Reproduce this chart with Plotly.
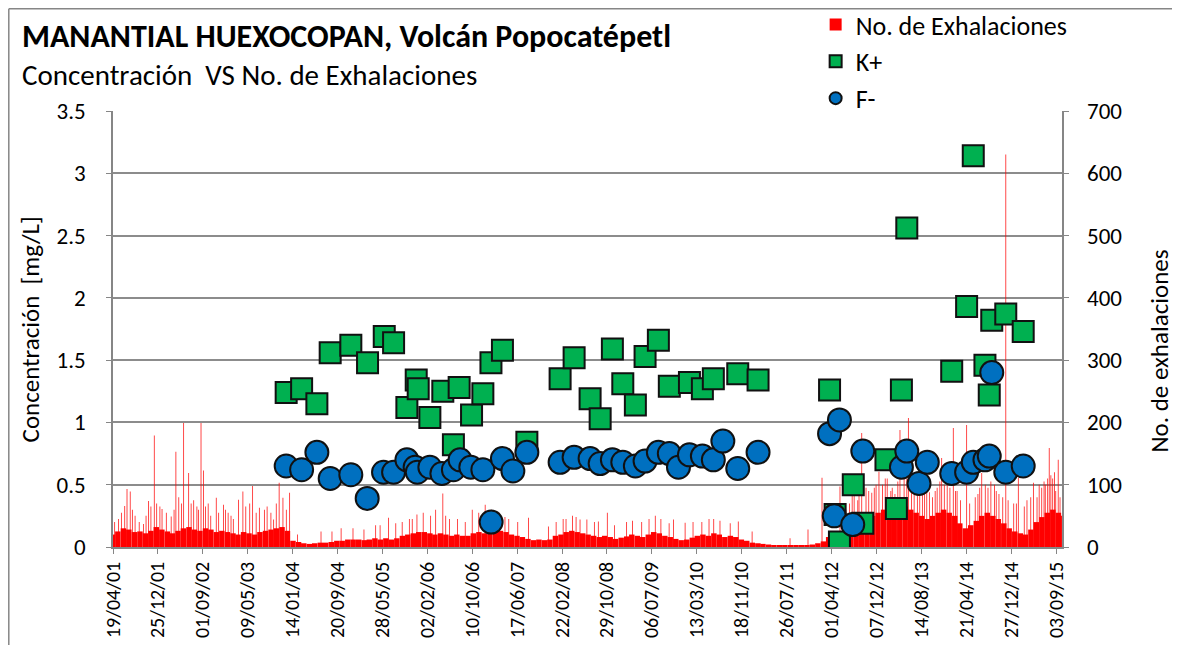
import pandas as pd
import plotly.graph_objects as go

# --- data ----------------------------------------------------------------
k_dates = ["2003-12-09", "2004-03-04", "2004-05-28", "2004-08-10", "2004-12-03", "2005-03-06",
           "2005-06-07", "2005-07-29", "2005-10-11", "2005-12-02", "2005-12-13", "2006-02-16",
           "2006-04-29", "2006-06-27", "2006-07-29", "2006-10-06", "2006-12-08", "2007-01-22",
           "2007-03-27", "2007-08-10", "2008-02-11", "2008-04-29", "2008-07-27", "2008-09-21",
           "2008-11-28", "2009-01-25", "2009-04-05", "2009-05-29", "2009-08-11", "2009-10-11",
           "2010-01-31", "2010-04-13", "2010-06-13", "2010-10-27", "2011-02-17", "2012-03-21",
           "2012-04-21", "2012-05-15", "2012-07-31", "2012-09-22", "2013-01-29", "2013-03-28",
           "2013-04-25", "2013-05-25", "2014-01-30", "2014-04-23", "2014-05-30", "2014-08-03",
           "2014-08-27", "2014-09-10", "2014-11-27", "2015-03-04"]
k_vals = [1.24, 1.27, 1.15, 1.56, 1.62, 1.48, 1.69, 1.64, 1.12, 1.34, 1.27, 1.04,
          1.25, 0.82, 1.28, 1.06, 1.23, 1.48, 1.58, 0.84, 1.35, 1.52, 1.19, 1.03,
          1.59, 1.31, 1.14, 1.53, 1.66, 1.29, 1.32, 1.27, 1.35, 1.39, 1.34, 1.26,
          0.26, 0.04, 0.50, 0.19, 0.70, 0.31, 1.26, 2.56, 1.41, 1.93, 3.14, 1.46,
          1.22, 1.82, 1.87, 1.73]

f_dates = ["2003-12-09", "2004-03-04", "2004-05-28", "2004-08-10", "2004-12-03", "2005-03-04",
           "2005-06-03", "2005-07-29", "2005-10-11", "2005-11-26", "2005-12-08", "2006-02-16",
           "2006-04-24", "2006-06-27", "2006-08-03", "2006-10-02", "2006-12-08", "2007-01-23",
           "2007-03-27", "2007-05-24", "2007-08-10", "2008-02-11", "2008-04-29", "2008-07-27",
           "2008-09-21", "2008-11-28", "2009-01-25", "2009-04-05", "2009-05-29", "2009-08-11",
           "2009-10-11", "2009-12-01", "2010-01-31", "2010-04-13", "2010-06-13", "2010-08-05",
           "2010-10-27", "2011-02-17", "2012-03-21", "2012-04-16", "2012-05-15", "2012-07-28",
           "2012-09-22", "2013-04-25", "2013-05-25", "2013-08-01", "2013-09-16", "2014-01-30",
           "2014-04-23", "2014-05-30", "2014-08-03", "2014-08-27", "2014-09-10", "2014-11-27",
           "2015-03-04"]
f_vals = [0.65, 0.62, 0.76, 0.55, 0.58, 0.39, 0.60, 0.60, 0.70, 0.64, 0.60, 0.64,
          0.59, 0.62, 0.70, 0.64, 0.62, 0.20, 0.71, 0.61, 0.76, 0.68, 0.72, 0.71,
          0.67, 0.70, 0.68, 0.65, 0.69, 0.76, 0.75, 0.64, 0.74, 0.73, 0.70, 0.85,
          0.63, 0.76, 0.91, 0.25, 1.02, 0.18, 0.77, 0.64, 0.77, 0.51, 0.68, 0.59,
          0.60, 0.68, 0.70, 0.73, 1.40, 0.60, 0.65]

# exhalations: typical monthly level, Apr 2001 .. Oct 2015
exh_monthly = [20, 25, 30, 28, 24, 25, 22, 26, 32,
               28, 25, 22, 26, 30, 32, 28, 26, 30, 28, 24, 26,
               24, 22, 20, 24, 22, 20, 24, 26, 28, 30, 32, 26,
               10, 8, 6, 5, 6, 7, 7, 8, 10, 10, 12, 12,
               12, 11, 12, 14, 12, 14, 12, 14, 18, 20, 22, 24,
               24, 22, 20, 22, 20, 18, 20, 18, 18, 22, 24, 22,
               22, 24, 26, 24, 20, 18, 16, 13, 11, 12, 11, 12,
               18, 20, 24, 26, 24, 22, 20, 18, 16, 18, 16, 13,
               15, 17, 20, 18, 16, 20, 24, 22, 18, 16, 13, 11,
               12, 15, 18, 20, 18, 22, 20, 16, 18, 16, 12, 10,
               7, 6, 5, 4, 3, 2, 2, 2, 2, 2, 3, 4,
               6, 9, 16, 10, 12, 30, 45, 55, 50, 45, 50, 55,
               60, 65, 55, 60, 65, 60, 55, 50, 45, 50, 55, 60,
               55, 50, 38, 30, 35, 42, 50, 55, 50, 45, 38, 30,
               25, 22, 20, 28, 40, 48, 55, 60, 55, 50]

# single-day peaks
spike_dates = ["2001-04-28", "2001-05-20", "2001-06-05", "2001-06-23", "2001-07-06", "2001-07-24",
               "2001-08-05", "2001-08-20", "2001-09-12", "2001-10-06", "2001-10-20", "2001-11-03",
               "2001-11-16", "2001-12-05", "2001-12-18", "2002-01-05", "2002-01-17", "2002-02-10",
               "2002-03-09", "2002-03-25", "2002-04-04", "2002-04-20", "2002-05-05", "2002-05-17",
               "2002-06-14", "2002-06-28", "2002-07-12", "2002-07-30", "2002-08-08", "2002-08-22",
               "2002-09-05", "2002-09-16", "2002-10-01", "2002-10-15", "2002-11-15", "2002-11-28",
               "2002-12-25", "2003-01-05", "2003-01-20", "2003-02-05", "2003-02-18", "2003-03-19",
               "2003-04-12", "2003-04-28", "2003-05-20", "2003-06-05", "2003-06-25", "2003-07-13",
               "2003-08-10", "2003-08-25", "2003-09-15", "2003-09-30", "2003-10-15", "2003-10-31",
               "2003-11-21", "2003-12-10", "2003-12-28",
               "2004-02-10", "2004-06-20", "2004-08-20", "2004-10-10", "2004-12-15", "2005-02-14",
               "2005-04-20", "2005-05-15", "2005-07-01", "2005-08-10", "2005-09-15", "2005-10-25",
               "2005-11-10", "2005-12-06", "2006-01-10", "2006-02-20", "2006-03-20", "2006-04-29",
               "2006-05-15", "2006-06-05", "2006-07-20", "2006-09-01", "2006-10-10", "2006-11-15",
               "2006-12-21", "2007-01-25", "2007-02-20", "2007-03-10", "2007-04-10", "2007-05-01",
               "2007-06-20", "2007-08-19", "2007-12-08", "2008-01-20", "2008-02-28", "2008-03-15",
               "2008-04-20", "2008-05-10", "2008-06-01", "2008-07-09", "2008-08-20", "2008-09-11",
               "2008-10-31", "2008-12-10", "2009-02-15", "2009-03-20", "2009-05-10", "2009-06-20",
               "2009-07-25", "2009-08-25", "2009-10-10", "2009-11-03", "2010-01-07", "2010-02-20",
               "2010-04-10", "2010-05-20", "2010-06-15", "2010-07-20", "2010-09-15", "2010-10-30",
               "2011-01-15", "2011-08-14", "2011-11-22",
               "2012-02-08", "2012-05-18", "2012-06-20", "2012-07-10", "2012-07-25", "2012-08-05",
               "2012-08-25", "2012-09-01", "2012-09-16", "2012-10-10", "2012-10-25", "2012-11-11",
               "2012-11-25", "2012-12-05", "2012-12-21", "2013-01-10", "2013-01-25", "2013-02-05",
               "2013-02-25", "2013-03-05", "2013-03-20", "2013-04-05", "2013-04-17", "2013-05-10",
               "2013-05-25", "2013-06-03", "2013-06-20", "2013-07-05", "2013-07-23", "2013-08-05",
               "2013-08-20", "2013-09-01", "2013-09-13", "2013-09-28", "2013-10-15", "2013-10-30",
               "2013-11-10", "2013-11-25", "2013-12-05", "2013-12-20", "2014-01-05", "2014-01-20",
               "2014-02-08", "2014-02-20", "2014-03-01", "2014-03-20", "2014-04-23", "2014-05-10",
               "2014-06-10", "2014-06-25", "2014-07-05", "2014-07-16", "2014-08-05", "2014-08-20",
               "2014-09-05", "2014-09-25", "2014-10-05", "2014-10-20", "2014-11-10", "2014-11-27",
               "2014-12-10", "2015-01-10", "2015-01-25", "2015-02-05", "2015-03-10", "2015-03-25",
               "2015-04-15", "2015-04-30", "2015-05-20", "2015-06-01", "2015-06-15", "2015-06-28",
               "2015-07-05", "2015-07-18", "2015-07-27", "2015-08-05", "2015-08-15", "2015-08-25",
               "2015-09-01", "2015-09-15", "2015-09-25"]
spike_vals = [40, 45, 55, 66, 93, 89,
              60, 50, 40, 37, 50, 74,
              65, 179, 70, 65, 61, 55,
              49, 60, 153, 80, 70, 199,
              119, 70, 75, 65, 60, 199,
              123, 65, 70, 50, 79, 55,
              68, 60, 55, 50, 45, 76,
              89, 65, 70, 98, 55, 63,
              60, 65, 55, 44, 70, 103,
              79, 60, 87,
              20, 25, 25, 30, 30, 28,
              35, 35, 47, 38, 40, 45,
              45, 52, 55, 50, 60, 86,
              50, 45, 45, 40, 60, 55,
              68, 60, 50, 55, 48, 45,
              40, 47, 33, 40, 45, 45,
              50, 48, 44, 44, 40, 41,
              55, 35, 40, 42, 40, 45,
              50, 45, 38, 44, 39, 40,
              40, 45, 45, 42, 38, 41,
              25, 14, 28,
              111, 97, 60, 70, 85, 90,
              75, 100, 183, 95, 90, 87,
              95, 100, 121, 100, 110, 110,
              90, 95, 85, 105, 188, 120,
              110, 207, 100, 95, 103, 90,
              85, 85, 92, 88, 80, 90,
              95, 105, 143, 100, 110, 95,
              191, 90, 90, 75, 196, 70,
              80, 85, 95, 119, 100, 95,
              105, 100, 90, 85, 80, 630,
              75, 70, 70, 111, 65, 75,
              80, 103, 80, 100, 95, 105,
              100, 110, 159, 115, 110, 120,
              90, 140, 80]

tick_dates = ["2001-04-19", "2001-12-25", "2002-09-01", "2003-05-09", "2004-01-14", "2004-09-20",
              "2005-05-28", "2006-02-02", "2006-10-10", "2007-06-17", "2008-02-22", "2008-10-29",
              "2009-07-06", "2010-03-13", "2010-11-18", "2011-07-26", "2012-04-01", "2012-12-07",
              "2013-08-14", "2014-04-21", "2014-12-27", "2015-09-03"]

FONT = "Carlito, Calibri, Lato, sans-serif"
DAY = 86400000
RED = "#FF0000"

months = pd.date_range("2001-04-01", periods=len(exh_monthly), freq="MS") + pd.Timedelta(days=15)

fig = go.Figure()

fig.add_trace(go.Bar(
    x=months, y=exh_monthly, width=[30.4 * DAY] * len(exh_monthly),
    marker=dict(color=RED, line=dict(width=0)),
    showlegend=False, yaxis="y"
))
fig.add_trace(go.Bar(
    x=pd.to_datetime(spike_dates), y=spike_vals, width=[5 * DAY] * len(spike_vals),
    marker=dict(color="rgba(255,0,0,0.8)", line=dict(width=0)),
    showlegend=False, yaxis="y", hoverinfo="skip"
))
# legend entry for the exhalation bars (square swatch like the original)
fig.add_trace(go.Scatter(
    x=[None], y=[None], mode="markers", name="No. de Exhalaciones",
    marker=dict(symbol="square", size=16, color=RED, line=dict(width=0)), yaxis="y"
))
fig.add_trace(go.Scatter(
    x=pd.to_datetime(k_dates), y=k_vals, mode="markers", name="K+",
    marker=dict(symbol="square", size=21, color="#00B050", line=dict(color="#111111", width=2)),
    yaxis="y2"
))
fig.add_trace(go.Scatter(
    x=pd.to_datetime(f_dates), y=f_vals, mode="markers", name="F-",
    marker=dict(symbol="circle", size=23, color="#0070C0", line=dict(color="#111111", width=2)),
    yaxis="y2"
))
# empty trace so the right-hand label axis is drawn
fig.add_trace(go.Scatter(x=[None], y=[None], mode="markers", showlegend=False, yaxis="y3"))

tick_text = [pd.Timestamp(d).strftime("%d/%m/%y") for d in tick_dates]

# page body adds an 8px offset, so the figure is 8px smaller than the window
fig.update_layout(
    width=1172, height=637,
    margin=dict(l=105, r=118, t=103, b=98, autoexpand=False),
    paper_bgcolor="white", plot_bgcolor="white",
    font=dict(family=FONT, size=23, color="#000000"),
    barmode="overlay",
    showlegend=True,
    legend=dict(x=0.7404, y=1.252, xanchor="left", yanchor="top",
                font=dict(family=FONT, size=26), itemsizing="constant",
                bgcolor="rgba(0,0,0,0)", itemwidth=30),
    xaxis=dict(type="date", range=["2001-04-19", "2015-10-06"],
               tickvals=tick_dates, ticktext=tick_text, tickangle=-90,
               tickfont=dict(size=20), ticks="outside", ticklen=5, tickcolor="#868686",
               showline=True, linecolor="#868686", linewidth=1.5, showgrid=False,
               zeroline=False),
    yaxis=dict(side="right", range=[0, 700], dtick=100, tick0=0,
               showgrid=True, gridcolor="#8c8c8c", gridwidth=1.5,
               showline=True, linecolor="#868686", linewidth=1.5, zeroline=False,
               ticks="outside", ticklen=5, tickcolor="#868686", showticklabels=False),
    yaxis2=dict(side="left", overlaying="y", range=[0, 3.5], dtick=0.5, tick0=0,
                showgrid=False, showline=True, linecolor="#868686", linewidth=1.5,
                zeroline=False, ticks="outside", ticklen=5, tickcolor="#868686",
                ticklabelstandoff=16),
    yaxis3=dict(side="right", overlaying="y", range=[0, 700], dtick=100, tick0=0,
                showgrid=False, showline=False, zeroline=False, ticks="",
                ticklabelstandoff=24),
    annotations=[
        dict(text="<b>MANANTIAL HUEXOCOPAN, Volcán Popocatépetl</b>", xref="paper", yref="paper",
             x=-0.0977, y=1.1717, xanchor="left", yanchor="middle", showarrow=False,
             font=dict(family=FONT, size=32)),
        dict(text="Concentración  VS No. de Exhalaciones", xref="paper", yref="paper",
             x=-0.0977, y=1.0825, xanchor="left", yanchor="middle", showarrow=False,
             font=dict(family=FONT, size=29)),
        dict(text="Concentración  [mg/L]", xref="paper", yref="paper", textangle=-90,
             x=-0.087, y=0.5, xanchor="center", yanchor="middle", showarrow=False,
             font=dict(family=FONT, size=25)),
        dict(text="No. de exhalaciones", xref="paper", yref="paper", textangle=-90,
             x=1.103, y=0.45, xanchor="center", yanchor="middle", showarrow=False,
             font=dict(family=FONT, size=25)),
    ],
    shapes=[
        dict(type="line", xref="paper", yref="paper", x0=-0.1098, x1=1.2, y0=1.2345, y1=1.2345,
             line=dict(color="#868686", width=1.5)),
        dict(type="line", xref="paper", yref="paper", x0=-0.1098, x1=-0.1098, y0=-0.3, y1=1.2345,
             line=dict(color="#868686", width=1.5)),
    ],
)

fig.write_html("out.html")
